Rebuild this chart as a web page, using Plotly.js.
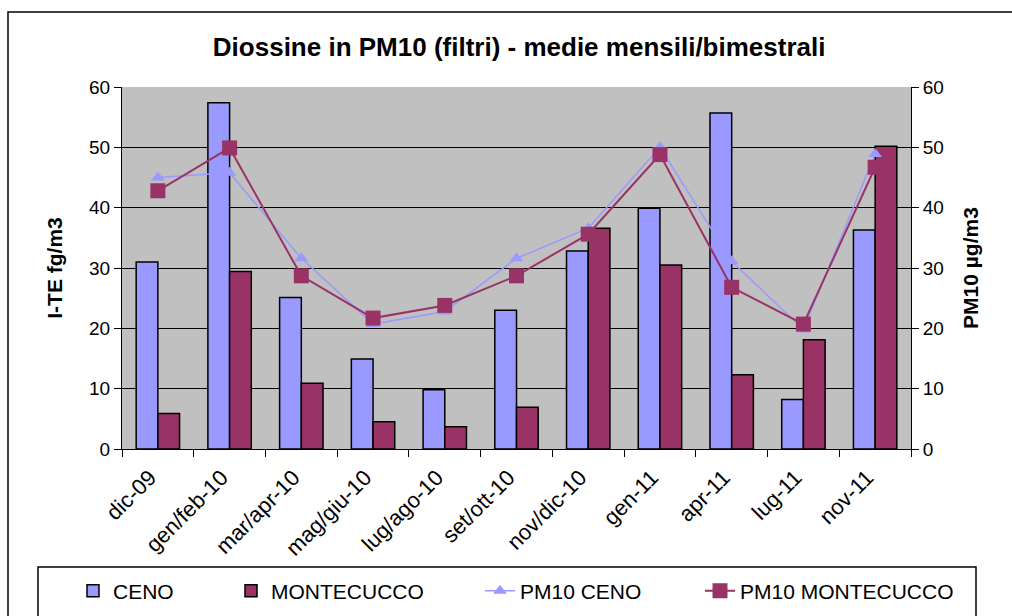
<!DOCTYPE html>
<html>
<head>
<meta charset="utf-8">
<script src="https://cdn.plot.ly/plotly-3.0.1.min.js"></script>
<style>html,body{margin:0;padding:0;background:#fff;}#chart{width:1012px;height:616px;}</style>
</head>
<body>
<div id="chart"></div>
<script>
const categories = ["dic-09","gen/feb-10","mar/apr-10","mag/giu-10","lug/ago-10","set/ott-10","nov/dic-10","gen-11","apr-11","lug-11","nov-11"];
const cenoDiox = [31.0, 57.4, 25.1, 14.9, 9.8, 23.0, 32.8, 39.9, 55.7, 8.2, 36.3];
const montecuccoDiox = [5.9, 29.4, 10.9, 4.5, 3.7, 6.9, 36.6, 30.5, 12.3, 18.1, 50.2];
const pm10Ceno = [45.0, 45.8, 31.6, 20.7, 22.8, 31.6, 36.6, 50.0, 31.1, 19.8, 48.9];
const pm10Montecucco = [42.8, 49.9, 28.7, 21.7, 23.8, 28.7, 35.6, 48.8, 26.8, 20.7, 46.7];
const yTicks = [0, 10, 20, 30, 40, 50, 60];

const FONT = "Liberation Sans, Arial, sans-serif";
const traces = [
  {type:"bar", name:"CENO", x:categories, y:cenoDiox, yaxis:"y", legend:"legend",
   marker:{color:"#9999FF", line:{color:"#000", width:1.5}}},
  {type:"bar", name:"MONTECUCCO", x:categories, y:montecuccoDiox, yaxis:"y", legend:"legend2",
   marker:{color:"#993366", line:{color:"#000", width:1.5}}},
  {type:"scatter", mode:"lines+markers", name:"PM10 CENO", x:categories, y:pm10Ceno, yaxis:"y2", legend:"legend3",
   line:{color:"#9999FF", width:1.5}, marker:{symbol:"triangle-up", size:12, color:"#9999FF"}},
  {type:"scatter", mode:"lines+markers", name:"PM10 MONTECUCCO", x:categories, y:pm10Montecucco, yaxis:"y2", legend:"legend4",
   line:{color:"#993366", width:2}, marker:{symbol:"square", size:15, color:"#993366"}}
];

const W = 789, H = 362;
function px(x){ return (x-122)/W; }
function py(y){ return (449-y)/H; }
function leg(xpix){
  return {orientation:"h", x:px(xpix), xanchor:"left", y:py(591), yanchor:"middle",
          font:{family:FONT, size:21, color:"#000"}, bgcolor:"rgba(0,0,0,0)", borderwidth:0};
}

const layout = {
  width:1012, height:616,
  margin:{l:122, r:101, t:87, b:167, pad:0, autoexpand:false},
  paper_bgcolor:"#FFFFFF", plot_bgcolor:"#C0C0C0",
  font:{family:FONT, size:19, color:"#000"},
  title:{text:"<b>Diossine in PM10 (filtri) - medie mensili/bimestrali</b>", font:{family:FONT, size:26, color:"#000"},
         x:0.513, xref:"container", xanchor:"center", y:1-47/616, yref:"container", yanchor:"middle"},
  barmode:"group", bargap:0.395, bargroupgap:0,
  showlegend:true,
  legend:leg(73), legend2:leg(231), legend3:leg(480), legend4:leg(700),
  xaxis:{type:"category", range:[-0.5, categories.length-0.5], autorange:false, tickangle:-45, ticks:"outside", tickson:"boundaries", ticklen:7, tickcolor:"#000",
         ticklabelshift:-8, ticklabelstandoff:6,
         showline:true, linecolor:"#000", linewidth:1, showgrid:false, tickfont:{size:22}, automargin:false},
  yaxis:{range:[0,60], tickvals:yTicks, ticks:"outside", ticklen:7, tickcolor:"#000", showline:true, linecolor:"#000",
         linewidth:1, showgrid:true, gridcolor:"#000", gridwidth:1, zeroline:false, tickfont:{size:19}, automargin:false,
         title:{text:"<b>I-TE fg/m3</b>", font:{size:21}, standoff:20}},
  yaxis2:{range:[0,60], tickvals:yTicks, overlaying:"y", side:"right", ticks:"outside", ticklen:7, tickcolor:"#000",
          showline:true, linecolor:"#000", linewidth:1, showgrid:false, zeroline:false, tickfont:{size:19}, automargin:false,
          title:{text:"<b>PM10 µg/m3</b>", font:{size:21}, standoff:20}},
  shapes:[
    {type:"rect", xref:"paper", yref:"paper", x0:px(8), x1:px(1030), y0:py(640), y1:py(12), line:{color:"#000", width:1.5}, fillcolor:"rgba(0,0,0,0)", layer:"below"},
    {type:"rect", xref:"paper", yref:"paper", x0:px(38), x1:px(976), y0:py(640), y1:py(567), line:{color:"#000", width:1.5}, fillcolor:"rgba(0,0,0,0)", layer:"below"}
  ]
};

Plotly.newPlot("chart", traces, layout, {displayModeBar:false, staticPlot:true});
</script>
</body>
</html>
